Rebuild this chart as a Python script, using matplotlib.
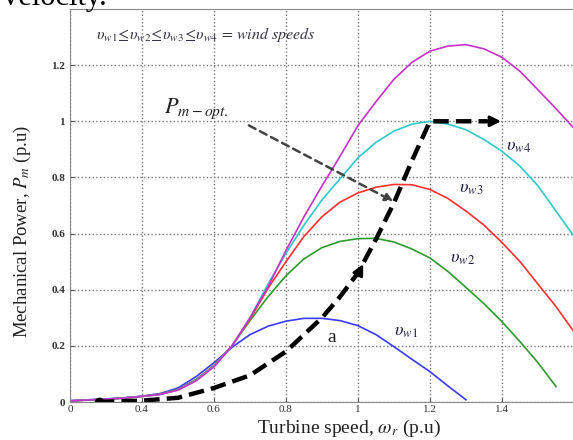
import matplotlib
matplotlib.use('Agg')
import matplotlib.pyplot as plt

plt.rcParams['font.family'] = 'serif'
plt.rcParams['font.serif'] = ['Liberation Serif', 'DejaVu Serif']
plt.rcParams['mathtext.fontset'] = 'stix'

# turbine speed (p.u) sample points
speed = [0.2, 0.25, 0.3, 0.35, 0.4, 0.45, 0.5, 0.55, 0.6, 0.65, 0.7, 0.75, 0.8,
         0.85, 0.9, 0.95, 1.0, 1.05, 1.1, 1.15, 1.2, 1.25, 1.3, 1.35, 1.4, 1.45,
         1.5, 1.55, 1.6]

# mechanical power curves (p.u)
p_w1 = [0.005, 0.008, 0.011, 0.015, 0.021, 0.03, 0.05, 0.09, 0.14, 0.195, 0.24,
        0.27, 0.288, 0.298, 0.298, 0.29, 0.272, 0.24, 0.197, 0.152, 0.108, 0.057,
        0.008]
p_w2 = [0.004, 0.007, 0.01, 0.014, 0.02, 0.028, 0.045, 0.08, 0.13, 0.2, 0.29,
        0.375, 0.45, 0.51, 0.55, 0.572, 0.582, 0.583, 0.57, 0.545, 0.513, 0.465,
        0.408, 0.35, 0.286, 0.215, 0.14, 0.055]
p_w3 = [0.004, 0.007, 0.01, 0.014, 0.02, 0.027, 0.044, 0.078, 0.13, 0.2, 0.295,
        0.405, 0.5, 0.59, 0.66, 0.712, 0.745, 0.765, 0.775, 0.774, 0.757, 0.725,
        0.68, 0.63, 0.568, 0.5, 0.42, 0.34, 0.25]
p_w4 = [0.004, 0.007, 0.01, 0.014, 0.02, 0.027, 0.043, 0.077, 0.128, 0.2, 0.3,
        0.42, 0.53, 0.63, 0.72, 0.795, 0.87, 0.925, 0.965, 0.99, 1.0, 0.99,
        0.97, 0.935, 0.893, 0.84, 0.77, 0.68, 0.59]
p_w5 = [0.004, 0.007, 0.01, 0.014, 0.02, 0.027, 0.042, 0.075, 0.125, 0.2, 0.3,
        0.41, 0.54, 0.66, 0.77, 0.875, 0.985, 1.07, 1.15, 1.21, 1.25, 1.268,
        1.273, 1.258, 1.228, 1.178, 1.112, 1.045, 0.975]

# optimum power tracking path
opt_speed = [0.28, 0.4, 0.5, 0.6, 0.7, 0.8, 0.9, 0.95, 1.0, 1.05, 1.1, 1.15, 1.2, 1.36]
opt_power = [0.0, 0.005, 0.015, 0.05, 0.095, 0.18, 0.3, 0.375, 0.46, 0.58, 0.71,
             0.86, 1.0, 1.0]

fig = plt.figure(figsize=(5.73, 4.4), dpi=100)
ax = fig.add_axes([70 / 573, 38 / 440, 504 / 573, 393 / 440])

ax.plot(speed[:len(p_w1)], p_w1, color='#3a3aff', lw=1.2)
ax.plot(speed[:len(p_w2)], p_w2, color='#2e9a2e', lw=1.2)
ax.plot(speed, p_w3, color='#ff3030', lw=1.2)
ax.plot(speed, p_w4, color='#30c8c8', lw=1.2)
ax.plot(speed, p_w5, color='#c832c8', lw=1.2)

ax.plot(opt_speed, opt_power, color='k', lw=3.2, ls=(0, (3.5, 1.6)))
ax.plot(opt_speed[0], opt_power[0], 'ko', ms=6)
ax.annotate('', xy=(1.405, 1.0), xytext=(1.35, 1.0),
            arrowprops=dict(arrowstyle='-|>', color='k', lw=2, mutation_scale=16))
ax.annotate('', xy=(1.018, 0.5), xytext=(1.0, 0.455),
            arrowprops=dict(arrowstyle='-|>', color='k', lw=2, mutation_scale=16))

# P_m-opt pointer
ax.annotate('', xy=(1.105, 0.71), xytext=(0.69, 0.99),
            arrowprops=dict(arrowstyle='-|>', color='#444444', lw=1.8,
                            ls=(0, (3, 2)), mutation_scale=12))
ax.text(0.46, 1.03, r'$\mathit{P}_{\mathit{m-opt.}}$', fontsize=16,
        color='#222222')

ax.text(0.272, 1.31, r'$\upsilon_{w1}\!\leq\!\upsilon_{w2}\!\leq\!\upsilon_{w3}\!\leq\!\upsilon_{w4}$'
        r'$\,=\,wind\ speeds$', fontsize=11.5, color='#333344', va='center')
ax.text(1.41, 0.91, r'$\upsilon_{w4}$', fontsize=13, color='#222244', va='center')
ax.text(1.28, 0.76, r'$\upsilon_{w3}$', fontsize=13, color='#222244', va='center')
ax.text(1.255, 0.51, r'$\upsilon_{w2}$', fontsize=13, color='#222244', va='center')
ax.text(1.10, 0.25, r'$\upsilon_{w1}$', fontsize=13, color='#222244', va='center')
ax.text(0.915, 0.23, 'a', fontsize=14, color='#222222', va='center')

ax.set_xlim(0.2, 1.6)
ax.set_ylim(0, 1.4)
ax.set_xticks([0.2, 0.4, 0.6, 0.8, 1.0, 1.2, 1.4, 1.6])
ax.set_xticklabels(['0', '0.4', '0.6', '0.8', '1', '1.2', '1.4', ''])
ax.set_yticks([0, 0.2, 0.4, 0.6, 0.8, 1.0, 1.2])
ax.set_yticklabels(['0', '0.2', '0.4', '0.6', '0.8', '1', '1.2'], fontweight='bold')
ax.tick_params(labelsize=8, length=3, direction='in', colors='#555555',
               labelcolor='#333333')
ax.tick_params(axis='x', pad=2)
ax.grid(True, ls=':', color='#777777', lw=1)
for s in ax.spines.values():
    s.set_color('#888888')

fig.text(349 / 573, 1 - 433 / 440, r'Turbine speed, $\omega_r$ (p.u)', fontsize=14,
         ha='center', va='baseline', color='#222222')
fig.text(22 / 573, 1 - 232 / 440, r'Mechanical Power, $P_m$ (p.u)', fontsize=13.5,
         rotation=90, ha='center', va='center', color='#222222')

fig.text(0.005, 0.989, 'velocity.', fontsize=22, va='baseline')

fig.savefig('out.png', dpi=100)
